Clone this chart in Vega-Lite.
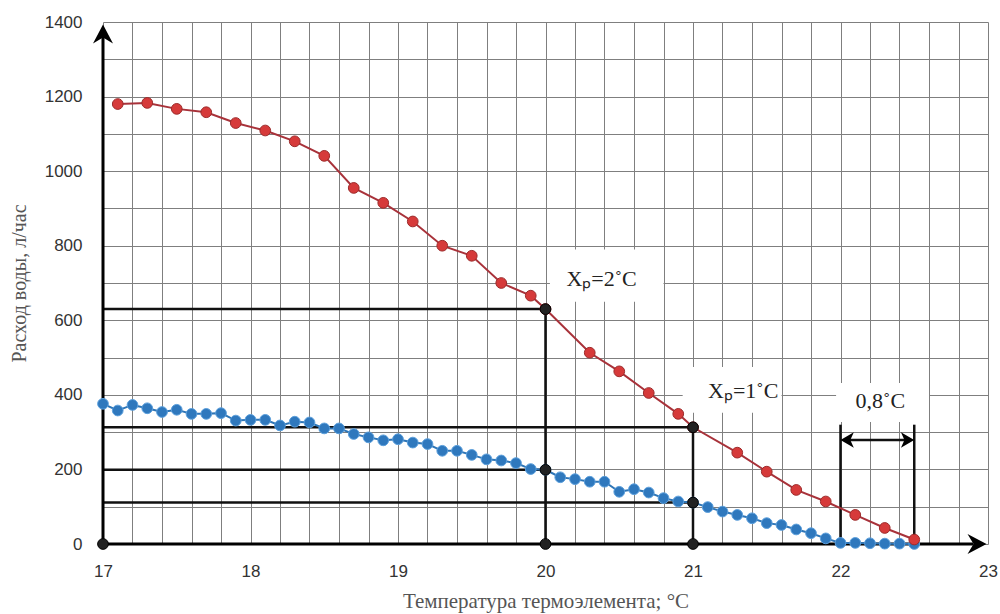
{
  "$schema": "https://vega.github.io/schema/vega-lite/v6.json",
  "width": 885,
  "height": 522,
  "autosize": {"type": "none"},
  "padding": {"left": 103, "top": 22, "right": 12, "bottom": 70},
  "background": "white",
  "config": {
    "view": {"stroke": null},
    "axisX": {
      "values": [17,17.2,17.4,17.6,17.8,18,18.2,18.4,18.6,18.8,19,19.2,19.4,19.6,19.8,20,20.2,20.4,20.6,20.8,21,21.2,21.4,21.6,21.8,22,22.2,22.4,22.6,22.8,23],
      "labelExpr": "datum.value % 1 == 0 ? format(datum.value, 'd') : ''",
      "labelOverlap": false,
      "labelFlush": false,
      "domain": false,
      "ticks": false,
      "tickSize": 0,
      "grid": true,
      "gridColor": "#7f7f7f",
      "gridWidth": 1,
      "gridOpacity": 1,
      "labelFont": "Liberation Sans",
      "labelFontSize": 17,
      "labelColor": "#333333",
      "labelPadding": 19,
      "titleFont": "Liberation Serif",
      "titleFontSize": 21,
      "titleFontWeight": "normal",
      "titleColor": "#555555",
      "titlePadding": 11
    },
    "axisY": {
      "values": [0,40,80,120,160,200,240,280,320,360,400,440,480,520,560,600,640,680,720,760,800,840,880,920,960,1000,1040,1080,1120,1160,1200,1240,1280,1320,1360,1400],
      "labelExpr": "datum.value % 200 == 0 ? format(datum.value, 'd') : ''",
      "labelOverlap": false,
      "labelFlush": false,
      "domain": false,
      "ticks": false,
      "tickSize": 0,
      "grid": true,
      "gridColor": "#7f7f7f",
      "gridWidth": 1,
      "gridOpacity": 1,
      "labelFont": "Liberation Sans",
      "labelFontSize": 17,
      "labelColor": "#333333",
      "labelPadding": 21,
      "titleFont": "Liberation Serif",
      "titleFontSize": 20,
      "titleFontWeight": "normal",
      "titleColor": "#555555",
      "titlePadding": 15
    }
  },
  "datasets": {
    "red": [
      {"t":17.1,"q":1180},{"t":17.3,"q":1183},{"t":17.5,"q":1167},{"t":17.7,"q":1158},{"t":17.9,"q":1129},
      {"t":18.1,"q":1109},{"t":18.3,"q":1080},{"t":18.5,"q":1041},{"t":18.7,"q":955},{"t":18.9,"q":915},
      {"t":19.1,"q":865},{"t":19.3,"q":800},{"t":19.5,"q":773},{"t":19.7,"q":700},{"t":19.9,"q":666},
      {"t":20.0,"q":630},{"t":20.3,"q":513},{"t":20.5,"q":463},{"t":20.7,"q":405},{"t":20.9,"q":349},
      {"t":21.0,"q":313},{"t":21.3,"q":245},{"t":21.5,"q":194},{"t":21.7,"q":145},{"t":21.9,"q":114},
      {"t":22.1,"q":78},{"t":22.3,"q":43},{"t":22.5,"q":12}
    ],
    "blue": [
      {"t":17.0,"q":376},{"t":17.1,"q":358},{"t":17.2,"q":373},{"t":17.3,"q":364},{"t":17.4,"q":354},
      {"t":17.5,"q":360},{"t":17.6,"q":349},{"t":17.7,"q":349},{"t":17.8,"q":351},{"t":17.9,"q":331},
      {"t":18.0,"q":333},{"t":18.1,"q":333},{"t":18.2,"q":318},{"t":18.3,"q":328},{"t":18.4,"q":326},
      {"t":18.5,"q":310},{"t":18.6,"q":310},{"t":18.7,"q":295},{"t":18.8,"q":286},{"t":18.9,"q":278},
      {"t":19.0,"q":281},{"t":19.1,"q":272},{"t":19.2,"q":268},{"t":19.3,"q":250},{"t":19.4,"q":250},
      {"t":19.5,"q":239},{"t":19.6,"q":227},{"t":19.7,"q":224},{"t":19.8,"q":217},{"t":19.9,"q":201},
      {"t":20.0,"q":199},{"t":20.1,"q":179},{"t":20.2,"q":174},{"t":20.3,"q":167},{"t":20.4,"q":167},
      {"t":20.5,"q":140},{"t":20.6,"q":147},{"t":20.7,"q":138},{"t":20.8,"q":123},{"t":20.9,"q":114},
      {"t":21.0,"q":111},{"t":21.1,"q":99},{"t":21.2,"q":87},{"t":21.3,"q":78},{"t":21.4,"q":69},
      {"t":21.5,"q":56},{"t":21.6,"q":51},{"t":21.7,"q":39},{"t":21.8,"q":29},{"t":21.9,"q":15},
      {"t":22.0,"q":3},{"t":22.1,"q":3},{"t":22.2,"q":2},{"t":22.3,"q":1},{"t":22.4,"q":1},{"t":22.5,"q":0}
    ],
    "black": [
      {"t":17,"q":0},{"t":20,"q":0},{"t":21,"q":0},{"t":20,"q":630},{"t":20,"q":199},{"t":21,"q":313},{"t":21,"q":111}
    ],
    "lines": [
      {"t":17,"t2":20,"q":630,"q2":630},
      {"t":17,"t2":21,"q":313,"q2":313},
      {"t":17,"t2":20,"q":199,"q2":199},
      {"t":17,"t2":21,"q":111,"q2":111},
      {"t":20,"t2":20,"q":0,"q2":630},
      {"t":21,"t2":21,"q":0,"q2":313},
      {"t":22,"t2":22,"q":0,"q2":320},
      {"t":22.5,"t2":22.5,"q":0,"q2":320},
      {"t":22.04,"t2":22.46,"q":279,"q2":279}
    ],
    "axes": [
      {"t":17,"t2":22.9,"q":0,"q2":0},
      {"t":17,"t2":17,"q":0,"q2":1380}
    ],
    "boxes": [
      {"t":20.03,"t2":20.8,"q":650,"q2":790},
      {"t":20.93,"t2":21.6,"q":352,"q2":475},
      {"t":21.97,"t2":22.6,"q":327,"q2":432}
    ],
    "labels": [
      {"t":20.38,"q":712,"txt":"Xₚ=2˚C"},
      {"t":21.34,"q":410,"txt":"Xₚ=1˚C"},
      {"t":22.27,"q":384,"txt":"0,8˚C"}
    ]
  },
  "layer": [
    {
      "data": {"name": "boxes"},
      "mark": {"type": "rect", "fill": "white", "stroke": null},
      "encoding": {
        "x": {"field": "t", "type": "quantitative", "scale": {"domain": [17, 23], "nice": false, "zero": false}, "title": "Температура термоэлемента; °C"},
        "x2": {"field": "t2"},
        "y": {"field": "q", "type": "quantitative", "scale": {"domain": [0, 1400], "nice": false}, "title": "Расход  воды, л/час"},
        "y2": {"field": "q2"}
      }
    },
    {
      "data": {"name": "lines"},
      "mark": {"type": "rule", "color": "#111111", "strokeWidth": 2.5},
      "encoding": {
        "x": {"field": "t", "type": "quantitative"},
        "x2": {"field": "t2"},
        "y": {"field": "q", "type": "quantitative"},
        "y2": {"field": "q2"}
      }
    },
    {
      "data": {"name": "axes"},
      "mark": {"type": "rule", "color": "#000000", "strokeWidth": 3},
      "encoding": {
        "x": {"field": "t", "type": "quantitative"},
        "x2": {"field": "t2"},
        "y": {"field": "q", "type": "quantitative"},
        "y2": {"field": "q2"}
      }
    },
    {
      "data": {"values": [{"t": 17, "q": 1393}]},
      "mark": {"type": "point", "shape": "M0,0L1,1.9L0,1.3L-1,1.9Z", "filled": true, "color": "#000000", "opacity": 1, "size": 400, "strokeWidth": 0},
      "encoding": {"x": {"field": "t", "type": "quantitative"}, "y": {"field": "q", "type": "quantitative"}}
    },
    {
      "data": {"values": [{"t": 22.99, "q": 0}]},
      "mark": {"type": "point", "shape": "M0,0L-1.9,-1L-1.3,0L-1.9,1Z", "filled": true, "color": "#000000", "opacity": 1, "size": 400, "strokeWidth": 0},
      "encoding": {"x": {"field": "t", "type": "quantitative"}, "y": {"field": "q", "type": "quantitative"}}
    },
    {
      "data": {"values": [{"t": 22.5, "q": 279}]},
      "mark": {"type": "point", "shape": "M0,0L-1.9,-1.1L-1.4,0L-1.9,1.1Z", "filled": true, "color": "#000000", "opacity": 1, "size": 196, "strokeWidth": 0},
      "encoding": {"x": {"field": "t", "type": "quantitative"}, "y": {"field": "q", "type": "quantitative"}}
    },
    {
      "data": {"values": [{"t": 22.0, "q": 279}]},
      "mark": {"type": "point", "shape": "M0,0L1.9,-1.1L1.4,0L1.9,1.1Z", "filled": true, "color": "#000000", "opacity": 1, "size": 196, "strokeWidth": 0},
      "encoding": {"x": {"field": "t", "type": "quantitative"}, "y": {"field": "q", "type": "quantitative"}}
    },
    {
      "data": {"name": "blue"},
      "mark": {"type": "line", "color": "#2e75b6", "strokeWidth": 2},
      "encoding": {"x": {"field": "t", "type": "quantitative"}, "y": {"field": "q", "type": "quantitative"}}
    },
    {
      "data": {"name": "blue"},
      "mark": {"type": "point", "shape": "circle", "filled": true, "fill": "#2f78bd", "stroke": "#5b9fdc", "strokeWidth": 1, "opacity": 1, "size": 115},
      "encoding": {"x": {"field": "t", "type": "quantitative"}, "y": {"field": "q", "type": "quantitative"}}
    },
    {
      "data": {"name": "red"},
      "mark": {"type": "line", "color": "#a8323a", "strokeWidth": 2},
      "encoding": {"x": {"field": "t", "type": "quantitative"}, "y": {"field": "q", "type": "quantitative"}}
    },
    {
      "data": {"name": "red"},
      "mark": {"type": "point", "shape": "circle", "filled": true, "fill": "#d63a3a", "stroke": "#9c2b2b", "strokeWidth": 1, "opacity": 1, "size": 115},
      "encoding": {"x": {"field": "t", "type": "quantitative"}, "y": {"field": "q", "type": "quantitative"}}
    },
    {
      "data": {"name": "black"},
      "mark": {"type": "point", "shape": "circle", "filled": true, "fill": "#222222", "stroke": "#000000", "strokeWidth": 1, "opacity": 1, "size": 115},
      "encoding": {"x": {"field": "t", "type": "quantitative"}, "y": {"field": "q", "type": "quantitative"}}
    },
    {
      "data": {"name": "labels"},
      "mark": {"type": "text", "font": "Liberation Serif", "fontSize": 22, "color": "#222222", "align": "center", "baseline": "middle"},
      "encoding": {
        "x": {"field": "t", "type": "quantitative"},
        "y": {"field": "q", "type": "quantitative"},
        "text": {"field": "txt"}
      }
    }
  ]
}
